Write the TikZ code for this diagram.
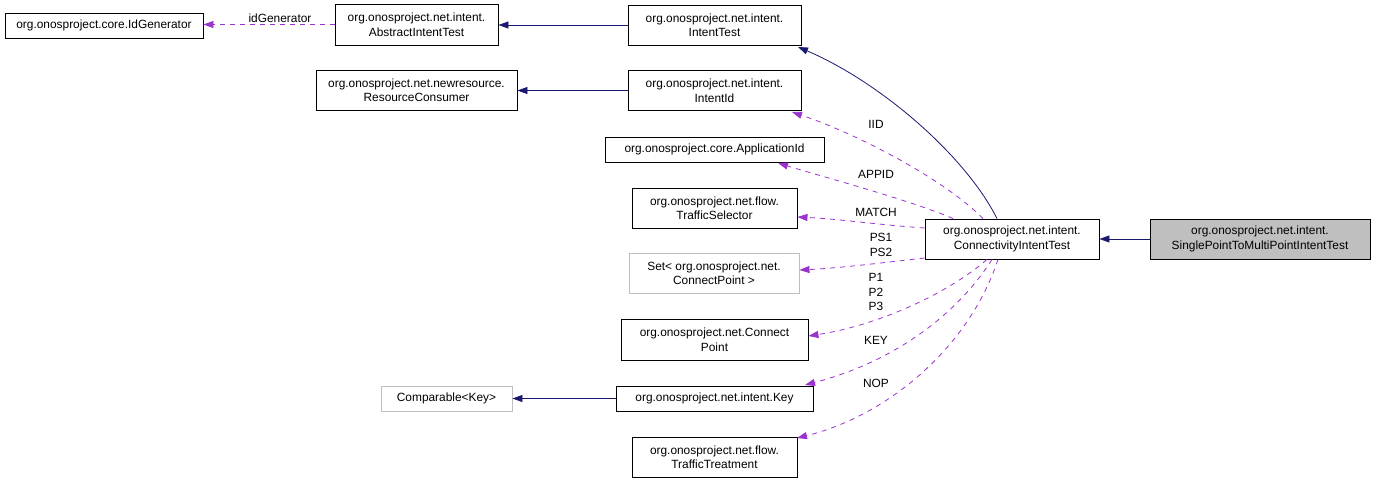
\documentclass[tikz,border=0pt]{standalone}
\usepackage{fontspec}
\setmainfont{Liberation Sans}
\usetikzlibrary{arrows.meta,calc}
\definecolor{navyedge}{HTML}{191970}
\definecolor{purpleedge}{HTML}{9A32CD}
\definecolor{grayborder}{HTML}{BFBFBF}
\definecolor{grayfill}{HTML}{BFBFBF}
\begin{document}
\begin{tikzpicture}[x=1pt,y=-1pt,
  cls/.style={draw=black,line width=0.9pt,fill=white,inner sep=1pt,align=center,
    font=\fontsize{11.9}{14.5}\selectfont},
  ext/.style={cls,draw=grayborder},
  cur/.style={cls,fill=grayfill},
  inh/.style={draw=navyedge,line width=0.8pt,-{Triangle[length=10pt,width=7pt]}},
  use/.style={draw=purpleedge,line width=0.8pt,dash pattern=on 5pt off 5pt,-{Triangle[length=10pt,width=7pt]}},
  lbl/.style={font=\fontsize{11.9}{14.5}\selectfont,inner sep=0pt,align=center}]
\useasboundingbox (0,0) rectangle (1376,483);
% nodes
\node[cls,minimum width=198pt,minimum height=25pt] (idgen) at (104,25.5) {org.onosproject.core.IdGenerator};
\node[cls,minimum width=163pt,minimum height=41pt] (abstract) at (416.5,24.5) {org.onosproject.net.intent.\\AbstractIntentTest};
\node[cls,minimum width=201pt,minimum height=40pt] (rescons) at (416.5,90) {org.onosproject.net.newresource.\\ResourceConsumer};
\node[cls,minimum width=173pt,minimum height=40pt] (intenttest) at (714.5,25) {org.onosproject.net.intent.\\IntentTest};
\node[cls,minimum width=173pt,minimum height=40pt] (intentid) at (714.5,90.5) {org.onosproject.net.intent.\\IntentId};
\node[cls,minimum width=219pt,minimum height=25pt] (appid) at (714.5,149.5) {org.onosproject.core.ApplicationId};
\node[cls,minimum width=165pt,minimum height=40pt] (tsel) at (714.5,208) {org.onosproject.net.flow.\\TrafficSelector};
\node[ext,minimum width=170pt,minimum height=40pt] (cpset) at (714,273) {Set< org.onosproject.net.\\ConnectPoint >};
\node[cls,minimum width=187pt,minimum height=41pt] (cpoint) at (714.5,339.5) {org.onosproject.net.Connect\\Point};
\node[ext,minimum width=131pt,minimum height=25pt] (comparable) at (446.5,398.5) {Comparable<Key>};
\node[cls,minimum width=197pt,minimum height=25pt] (key) at (714.5,398.5) {org.onosproject.net.intent.Key};
\node[cls,minimum width=165pt,minimum height=40pt] (ttreat) at (714.5,457) {org.onosproject.net.flow.\\TrafficTreatment};
\node[cls,minimum width=174pt,minimum height=40pt] (conn) at (1012,239) {org.onosproject.net.intent.\\ConnectivityIntentTest};
\node[cur,minimum width=220pt,minimum height=40pt] (single) at (1260,239) {org.onosproject.net.intent.\\SinglePointToMultiPointIntentTest};
% inheritance edges
\draw[inh] (single.west) -- (conn.east);
\draw[inh] (intenttest.west) -- (abstract.east |- intenttest.west);
\draw[inh] (intentid.west) -- (rescons.east |- intentid.west);
\draw[inh] (key.west) -- (comparable.east);
\draw[inh] ([xshift=-15pt]conn.north) .. controls (965,155) and (880,82) .. (798,47);
% usage edges
\draw[use] (abstract.west) -- (idgen.east |- abstract.west);
\node[lbl] (lidgen) at (280,18) {idGenerator};
\draw[use] ([xshift=-29pt]conn.north) .. controls (945,180) and (860,135) .. (792,112);
\node[lbl] (liid) at (876,124) {IID};
\draw[use] ([xshift=-59pt]conn.north) .. controls (910,200) and (820,176) .. (778,163);
\node[lbl] (lappid) at (876,174) {APPID};
\draw[use] ([yshift=11pt]conn.west) .. controls (880,225) and (840,219) .. (tsel.east |- 0,217);
\node[lbl] (lmatch) at (876,212) {MATCH};
\draw[use] ([yshift=-19pt]conn.west) .. controls (880,263) and (840,268) .. (cpset.east |- 0,270);
\node[lbl] (lps) at (881,245) {PS1\\PS2};
\draw[use] ([xshift=-25pt]conn.south) .. controls (950,292) and (880,325) .. (cpoint.east |- 0,336);
\node[lbl] (lp) at (876,292) {P1\\P2\\P3};
\draw[use] ([xshift=-20pt]conn.south) .. controls (960,310) and (900,360) .. (805,385);
\node[lbl] (lkey) at (876,340) {KEY};
\draw[use] ([xshift=-14pt]conn.south) .. controls (970,345) and (890,415) .. (797,438);
\node[lbl] (lnop) at (876,383) {NOP};
\end{tikzpicture}
\end{document}
